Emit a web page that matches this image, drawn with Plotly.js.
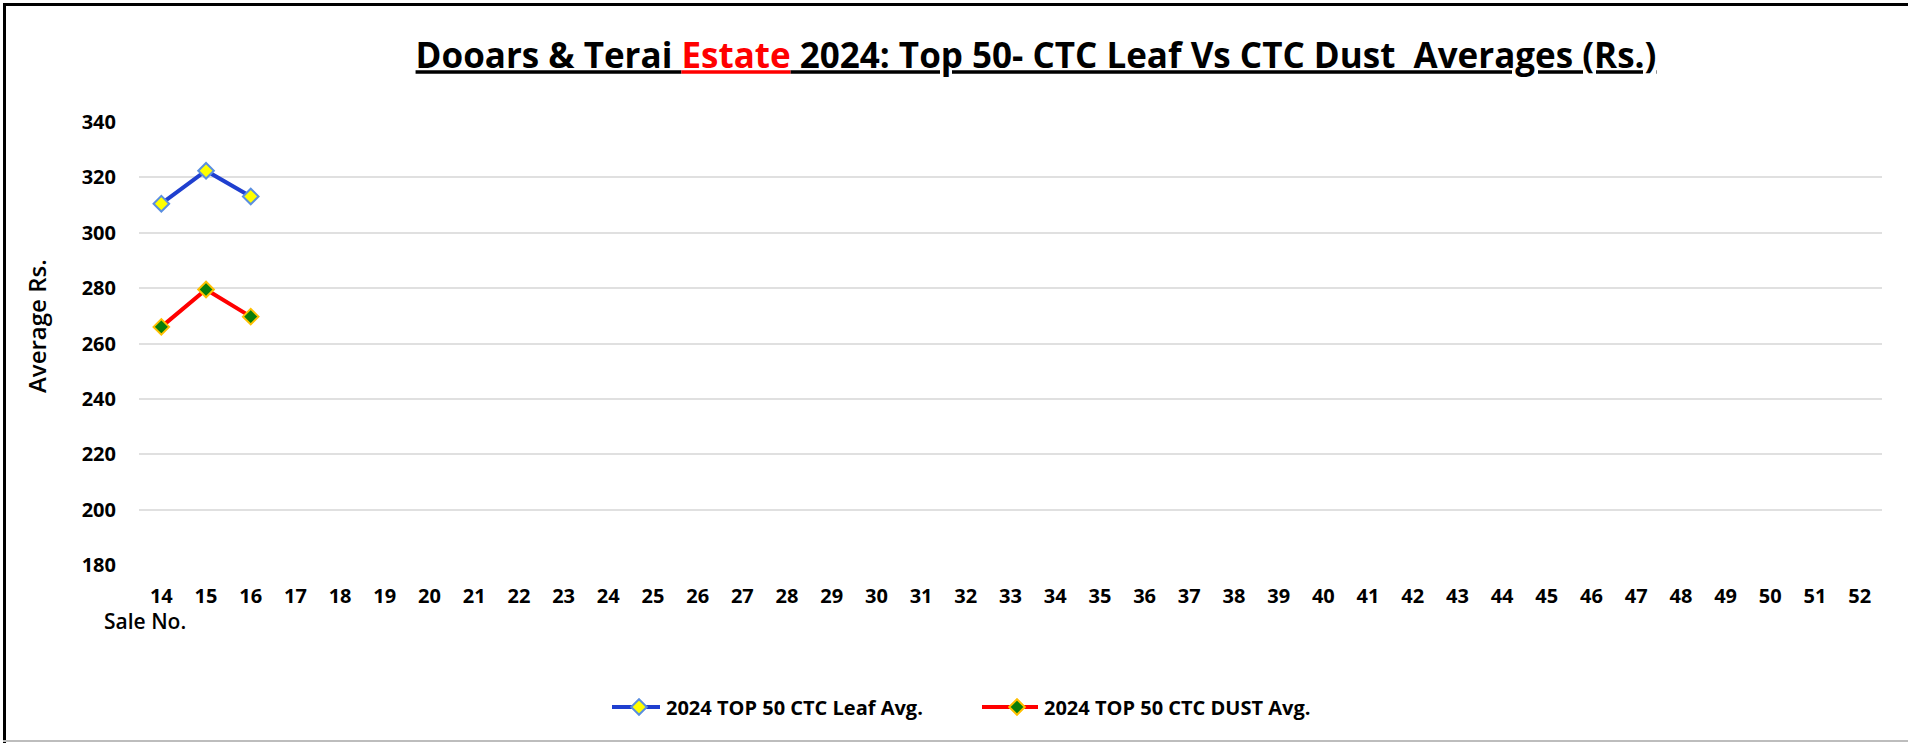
<!DOCTYPE html>
<html>
<head>
<meta charset="utf-8">
<script src="https://cdn.plot.ly/plotly-3.0.1.min.js"></script>
<style>
  html, body { margin: 0; padding: 0; background: #fff; }
  #wrap { position: relative; width: 1908px; height: 743px; overflow: hidden; }
  #frameTop { position: absolute; left: 3px; top: 3px; width: 1905px; height: 3px; background: #000; z-index: 5; }
  #frameLeft { position: absolute; left: 3px; top: 3px; width: 3px; height: 740px; background: #000; z-index: 5; }
  #frameBottom { position: absolute; left: 3px; top: 740px; width: 1905px; height: 2px; background: #bdbdbd; z-index: 5; }
  #chart { width: 1908px; height: 743px; }
</style>
</head>
<body>
<div id="wrap">
  <div id="frameTop"></div>
  <div id="frameLeft"></div>
  <div id="frameBottom"></div>
  <div id="chart"></div>
</div>
<script>
// ---- data ----
const saleNos = ['14','15','16','17','18','19','20','21','22','23','24','25','26','27','28','29','30','31','32','33','34','35','36','37','38','39','40','41','42','43','44','45','46','47','48','49','50','51','52'];
const leafSales = ['14','15','16'];
const leafAvg = [310.5, 322.4, 313.1];
const dustSales = ['14','15','16'];
const dustAvg = [266.0, 279.5, 269.7];
const yTicks = [180, 200, 220, 240, 260, 280, 300, 320, 340];
const leafName = '2024 TOP 50 CTC Leaf Avg.';
const dustName = '2024 TOP 50 CTC DUST Avg.';
const titleText = '<u>Dooars &amp; Terai </u><span style="color:#ff0000"><u>Estate</u></span><u> 2024: Top 50- CTC Leaf Vs CTC Dust  Averages (Rs.)</u>';

// ---- layout geometry (pixels) ----
const W = 1908, H = 743;
const L = 139, R = 26, T = 122, B = 178;
const pw = W - L - R, ph = H - T - B;
const px = x => (x - L) / pw;
const py = y => (H - B - y) / ph;

const FONT = 'Open Sans, Liberation Sans, sans-serif';

const traces = [
  {
    type: 'scatter', mode: 'lines+markers', name: leafName,
    x: leafSales, y: leafAvg,
    line: { color: '#1f3fcf', width: 4 },
    marker: { symbol: 'diamond', size: 12, color: '#ffff00', line: { color: '#5b8fe0', width: 2 } }
  },
  {
    type: 'scatter', mode: 'lines+markers', name: dustName,
    x: dustSales, y: dustAvg,
    line: { color: '#ff0000', width: 4 },
    marker: { symbol: 'diamond', size: 12, color: '#0a7d0a', line: { color: '#ffc000', width: 2 } }
  }
];

const layout = {
  width: W, height: H,
  margin: { l: L, r: R, t: T, b: B, pad: 0 },
  paper_bgcolor: 'rgba(0,0,0,0)',
  plot_bgcolor: '#ffffff',
  font: { family: FONT, color: '#000' },
  showlegend: true,
  title: {
    text: titleText,
    xref: 'container', yref: 'container',
    x: 1036 / W, xanchor: 'center',
    y: 1 - 56 / H, yanchor: 'middle',
    font: { family: FONT, size: 35, color: '#000', weight: 'bold' }
  },
  xaxis: {
    type: 'category',
    categoryorder: 'array', categoryarray: saleNos,
    range: [-0.5, saleNos.length - 0.5],
    showgrid: false, zeroline: false, showline: false,
    ticks: '', ticklabelstandoff: 17,
    tickfont: { family: FONT, size: 20, color: '#000', weight: 'bold' },
    fixedrange: true
  },
  yaxis: {
    range: [180, 340],
    tickvals: yTicks,
    showgrid: true, gridcolor: '#e0e0e0', gridwidth: 2,
    zeroline: false, showline: false,
    ticks: '', ticklabelstandoff: 22,
    tickfont: { family: FONT, size: 20, color: '#000', weight: 'bold' },
    fixedrange: true
  },
  legend: {
    orientation: 'h',
    x: px(612), xanchor: 'left',
    y: py(707), yanchor: 'middle',
    font: { family: FONT, size: 20, color: '#000', weight: 'bold' },
    itemwidth: 44,
    entrywidth: 319, entrywidthmode: 'pixels',
    bgcolor: 'rgba(0,0,0,0)'
  },
  annotations: [
    {
      text: 'Average Rs.', textangle: -90,
      xref: 'paper', yref: 'paper',
      x: px(36), y: py(326), xanchor: 'center', yanchor: 'middle',
      showarrow: false,
      font: { family: FONT, size: 24, color: '#000', weight: 600 }
    },
    {
      text: 'Sale No.',
      xref: 'paper', yref: 'paper',
      x: px(102), y: py(621), xanchor: 'left', yanchor: 'middle',
      showarrow: false,
      font: { family: FONT, size: 21, color: '#000', weight: 600 }
    }
  ]
};

Plotly.newPlot('chart', traces, layout, { displayModeBar: false, staticPlot: true }).then(gd => {
  // lengthen legend line samples (centred on the marker) to match the reference
  gd.querySelectorAll('.legend .traces').forEach(tr => {
    const pt = tr.querySelector('.legendpoints');
    let cx = 20;
    if (pt) {
      const m = /translate\(([-\d.]+)/.exec(pt.getAttribute('transform') || '');
      if (m) cx = parseFloat(m[1]);
    }
    tr.querySelectorAll('.legendlines path').forEach(p => {
      const lg = p.closest('.legendlines');
      let off = 0;
      const m2 = /translate\(([-\d.]+)/.exec((lg && lg.getAttribute('transform')) || '');
      if (m2) off = parseFloat(m2[1]);
      p.setAttribute('d', 'M' + (cx - off - 28) + ',0h56');
    });
  });
});
</script>
</body>
</html>
